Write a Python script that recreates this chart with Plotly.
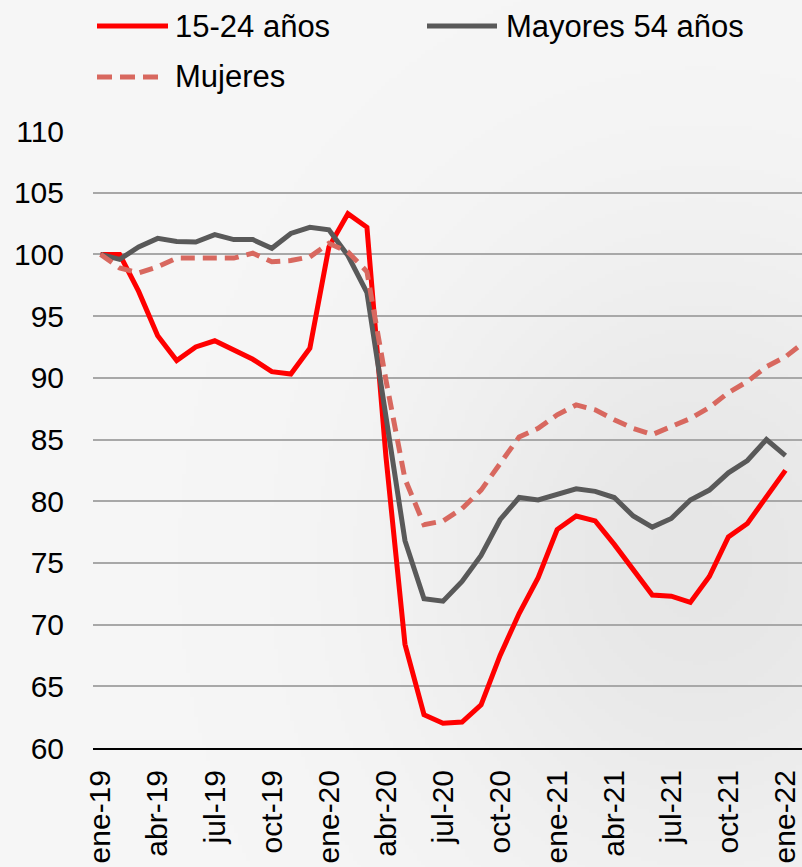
import base64
import math
import struct
import zlib

import plotly.graph_objects as go

# Monthly index (ene-19 = 100)
meses = [
    "ene-19", "feb-19", "mar-19", "abr-19", "may-19", "jun-19", "jul-19", "ago-19",
    "sep-19", "oct-19", "nov-19", "dic-19", "ene-20", "feb-20", "mar-20", "abr-20",
    "may-20", "jun-20", "jul-20", "ago-20", "sep-20", "oct-20", "nov-20", "dic-20",
    "ene-21", "feb-21", "mar-21", "abr-21", "may-21", "jun-21", "jul-21", "ago-21",
    "sep-21", "oct-21", "nov-21", "dic-21", "ene-22", "feb-22",
]

jovenes_15_24 = [
    100.0, 100.0, 97.0, 93.4, 91.4, 92.5, 93.0, 92.2, 91.5, 90.5, 90.3, 92.4,
    100.6, 103.3, 102.2, 83.6, 68.4, 62.7, 62.0, 62.1, 63.5, 67.5, 70.9, 73.8,
    77.7, 78.8, 78.4, 76.5, 74.4, 72.4, 72.3, 71.8, 73.9, 77.1, 78.2, 80.3, 82.5,
]

mayores_54 = [
    100.0, 99.6, 100.6, 101.3, 101.05, 101.0, 101.6, 101.2, 101.2, 100.5, 101.7, 102.2,
    102.0, 99.9, 96.9, 87.0, 76.8, 72.1, 71.9, 73.5, 75.6, 78.5, 80.3, 80.1,
    80.5, 81.0, 80.8, 80.3, 78.8, 77.9, 78.6, 80.1, 80.9, 82.3, 83.3, 85.0, 83.7,
]

mujeres = [
    100.0, 98.9, 98.5, 99.0, 99.7, 99.7, 99.6, 99.7, 100.1, 99.4, 99.5, 99.8,
    100.9, 100.2, 98.6, 89.8, 81.8, 78.1, 78.4, 79.4, 80.9, 83.0, 85.2, 85.9,
    87.0, 87.8, 87.4, 86.6, 85.9, 85.4, 86.0, 86.7, 87.6, 88.8, 89.7, 90.9, 91.7,
    92.9,
]

tick_labels = [
    "ene-19", "abr-19", "jul-19", "oct-19", "ene-20", "abr-20", "jul-20",
    "oct-20", "ene-21", "abr-21", "jul-21", "oct-21", "ene-22",
]
y_ticks = [60, 65, 70, 75, 80, 85, 90, 95, 100, 105, 110]

series = [
    ("15-24 años", jovenes_15_24, "#ff0000", "solid"),
    ("Mayores 54 años", mayores_54, "#595959", "solid"),
    ("Mujeres", mujeres, "#d8685f", "14px,8px"),
]

W, H = 802, 867
M_L, M_R, M_T, M_B = 93, 0, 131, 119
PW, PH = W - M_L - M_R, H - M_T - M_B
FONT = "Arial, Liberation Sans, sans-serif"


def _png(width, height, shade):
    """Encode a grayscale PNG from a shade(x, y) function."""
    rows = []
    for j in range(height):
        row = bytearray([0])
        for i in range(width):
            row.append(shade(i, j))
        rows.append(bytes(row))
    raw = b"".join(rows)

    def chunk(tag, data):
        c = struct.pack(">I", len(data)) + tag + data
        return c + struct.pack(">I", zlib.crc32(tag + data) & 0xFFFFFFFF)

    ihdr = struct.pack(">IIBBBBB", width, height, 8, 0, 0, 0, 0)
    data = b"\x89PNG\r\n\x1a\n" + chunk(b"IHDR", ihdr) + chunk(b"IDAT", zlib.compress(raw, 9)) + chunk(b"IEND", b"")
    return "data:image/png;base64," + base64.b64encode(data).decode()


def _bg_shade(i, j):
    x, y = i * 4, j * 4
    d = math.exp(-(((x - 700) / 280.0) ** 2 + ((y - 560) / 320.0) ** 2))
    v = 246 - 16 * d
    return max(0, min(255, int(round(v))))


bg_uri = _png(W // 4 + 1, H // 4 + 1, _bg_shade)


def px_x(px):
    return (px - M_L) / PW


def px_y(py):
    return (H - M_B - py) / PH


fig = go.Figure()
for name, vals, color, dash in series:
    fig.add_trace(go.Scatter(
        x=meses[:len(vals)],
        y=vals,
        mode="lines",
        name=name,
        line=dict(color=color, width=5, dash=dash),
        showlegend=False,
    ))

# Legend drawn as line samples and text labels
legend_items = [
    (series[0], 97, 168, 173, 26),
    (series[1], 427, 497, 504, 26),
    (series[2], 97, 161, 173, 77),
]
shapes = []
annotations = []
for (name, _, color, dash), x0, x1, xt, yc in legend_items:
    shapes.append(dict(
        type="line", xref="paper", yref="paper",
        x0=px_x(x0), x1=px_x(x1), y0=px_y(yc), y1=px_y(yc),
        line=dict(color=color, width=5, dash="15px,8px" if dash != "solid" else "solid"),
    ))
    annotations.append(dict(
        text=name, xref="paper", yref="paper",
        x=px_x(xt), y=px_y(yc), xanchor="left", yanchor="middle",
        showarrow=False, font=dict(family=FONT, size=31, color="#000000"),
    ))

fig.update_layout(
    width=W,
    height=H,
    margin=dict(l=M_L, r=M_R, t=M_T, b=M_B, pad=0),
    paper_bgcolor="#f4f4f4",
    plot_bgcolor="rgba(0,0,0,0)",
    font=dict(family=FONT, size=30, color="#000000"),
    shapes=shapes,
    annotations=annotations,
    images=[dict(
        source=bg_uri, xref="paper", yref="paper",
        x=px_x(0), y=px_y(0), sizex=W / PW, sizey=H / PH,
        xanchor="left", yanchor="top", sizing="stretch", layer="below",
    )],
    xaxis=dict(
        type="category",
        categoryorder="array",
        categoryarray=meses,
        range=[-0.4, 36.87],
        tickmode="array",
        tickvals=tick_labels,
        ticktext=tick_labels,
        tickangle=-90,
        showgrid=False,
        showline=True,
        linecolor="#000000",
        linewidth=2,
        ticks="",
        ticklabelstandoff=8,
        tickfont=dict(family=FONT, size=30, color="#000000"),
        automargin=False,
        zeroline=False,
    ),
    yaxis=dict(
        range=[60, 110],
        tickmode="array",
        tickvals=y_ticks,
        ticktext=[str(v) for v in y_ticks],
        showgrid=True,
        gridcolor="#a8a8a8",
        gridwidth=2,
        showline=False,
        ticks="",
        ticklabelstandoff=28,
        tickfont=dict(family=FONT, size=30, color="#000000"),
        automargin=False,
        zeroline=False,
    ),
)

fig.write_html("out.html")
